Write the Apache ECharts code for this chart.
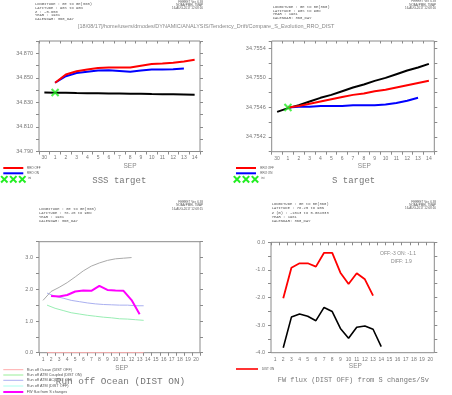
<!DOCTYPE html>
<html><head><meta charset="utf-8">
<script src="https://cdn.jsdelivr.net/npm/echarts@6/dist/echarts.min.js"></script>
<style>html,body{margin:0;padding:0;background:#fff}#c{width:452px;height:395px}</style>
</head><body><div id="c"></div>
<script>
// ---------- DATA ----------
// Panel 1: SSS target (x: days 30 Aug .. 14 Sep, 360-day calendar)
const P1_DAYS = ['30','1','2','3','4','5','6','7','8','9','10','11','12','13','14'];
const P1_RRO_OFF = [null,34.8460,34.8527,34.8553,34.8567,34.8580,34.8585,34.8585,34.8585,34.8599,34.8612,34.8617,34.8623,34.8633,34.8647];
const P1_RRO_ON  = [null,34.8460,34.8513,34.8540,34.8550,34.8559,34.8561,34.8556,34.8550,34.8559,34.8567,34.8567,34.8570,34.8577,null];
const P1_REF     = [34.8380,34.8379,34.8378,34.8376,34.8375,34.8374,34.8373,34.8372,34.8371,34.8370,34.8368,34.8367,34.8366,34.8364,34.8362];
const P1_INI     = [['1',34.8380]];

// Panel 2: S target
const P2_DAYS = P1_DAYS;
const P2_RRO_OFF = [null,34.75460,34.75462,34.75465,34.75468,34.75471,34.75474,34.75477,34.75479,34.75482,34.75484,34.75487,34.75490,34.75493,34.75496];
const P2_RRO_ON  = [null,34.75460,34.75461,34.75461,34.75462,34.75462,34.75462,34.75463,34.75463,34.75463,34.75464,34.75466,34.75469,34.75473,null];
const P2_REF     = [34.75454,34.75459,34.75463,34.75468,34.75473,34.75477,34.75482,34.75487,34.75491,34.75496,34.75500,34.75505,34.75510,34.75514,34.75519];
const P2_INI     = [['1',34.7546]];

// Panel 3: Run off Ocean (DIST ON)  (x: day of SEP)
const P3_DAYS = ['1','2','3','4','5','6','7','8','9','10','11','12','13','14','15','16','17','18','19','20'];
const P3_HALF_X = [1.5,2.5,3.5,4.5,5.5,6.5,7.5,8.5,9.5,10.5,11.5,12.5,13.5];
const P3_RUNOFF_OCEAN_OFF = [0,0,0,0,0,0,0,0,0,0,0,0,0];
const P3_RUNOFF_ATM_COUPLED_ON = [1.50,1.40,1.33,1.26,1.22,1.18,1.15,1.12,1.10,1.07,1.06,1.04,1.02];
const P3_RUNOFF_ATM_AC_ON = [1.88,1.78,1.72,1.65,1.61,1.57,1.54,1.52,1.51,1.50,1.50,1.48,1.48];
const P3_GREY_X = [1,2,3,4,5,6,7,8,9,10,11,12];
const P3_GREY = [1.65,1.93,2.06,2.21,2.39,2.58,2.73,2.83,2.91,2.96,2.98,3.00];
const P3_FW_X = [2,3,4,5,6,7,8,9,10,11,12,13];
const P3_FW = [1.79,1.77,1.82,1.93,1.96,1.95,2.11,1.98,1.96,1.95,1.66,1.21];

// Panel 4: FW flux (DIST OFF) from S changes/Sv
const P4_DAYS = P3_DAYS;
const P4_DIST_ON  = [null,-2.03,-0.92,-0.76,-0.76,-0.88,-0.38,-0.38,-1.10,-1.51,-1.12,-1.34,-1.93];
const P4_DIST_OFF = [null,-3.82,-2.71,-2.60,-2.68,-2.84,-2.36,-2.51,-3.12,-3.48,-3.08,-3.03,-3.15,-3.78];

// ---------- LAYOUT / STYLE ----------
const FRAME = '#8a8a8a', LAB = '#777', TXT = '#555';
const SANS = 'Liberation Sans', MONO = 'Liberation Mono';
const grids = [
  {left:39, top:41, width:161, height:110.5},
  {left:271.7, top:41, width:162.6, height:110.7},
  {left:39, top:241.7, width:161, height:111},
  {left:271, top:242.3, width:163.3, height:110.4}
].map(g => Object.assign(g, {show:true, borderColor:FRAME, borderWidth:1, backgroundColor:'transparent', containLabel:false, outerBoundsMode:'none'}));

function catX(gi, data, top) {
  return {gridIndex:gi, type:'category', data, boundaryGap:true, position: top?'top':'bottom',
    axisLine:{show:false},
    axisTick:{show:true, inside:!!top, length: top?2.5:3, lineStyle:{color:FRAME, width:1}},
    axisLabel:{show:!top, fontSize:5, fontFamily:SANS, color:LAB, margin:4},
    splitLine:{show:false}};
}
function valY(gi, min, max, interval, fmt, right) {
  return {gridIndex:gi, type:'value', min, max, interval, position: right?'right':'left',
    axisLine:{show:false},
    axisTick:{show:true, inside:false, length:3, lineStyle:{color:FRAME, width:1}},
    axisLabel:{show:!right, fontSize:5.5, fontFamily:SANS, color:LAB, margin:6, formatter:fmt},
    splitLine:{show:false}};
}
const f1 = v => (Math.round(v*1000) % 20 === 10) ? v.toFixed(3) : '';
const f2 = v => (Math.round(v*10000) % 4 === 2) ? v.toFixed(4) : '';
const fInt = v => (Math.abs(v - Math.round(v)) < 1e-9) ? v.toFixed(1) : '';

const xAxis = [
  catX(0, P1_DAYS), catX(0, P1_DAYS, true),
  catX(1, P2_DAYS), catX(1, P2_DAYS, true),
  catX(2, P3_DAYS), catX(2, P3_DAYS, true),
  {gridIndex:2, type:'value', min:0.5, max:20.5, show:false},
  catX(3, P4_DAYS), catX(3, P4_DAYS, true)
];
const yAxis = [
  valY(0, 34.79, 34.88, 0.01, f1), valY(0, 34.79, 34.88, 0.01, f1, true),
  valY(1, 34.7540, 34.7555, 0.0002, f2), valY(1, 34.7540, 34.7555, 0.0002, f2, true),
  valY(2, 0, 3.5, 0.5, fInt), valY(2, 0, 3.5, 0.5, fInt, true),
  valY(3, -4, 0, 0.5, fInt), valY(3, -4, 0, 0.5, fInt, true)
];

function line(name, xi, yi, data, color, w) {
  return {name, type:'line', xAxisIndex:xi, yAxisIndex:yi, data, showSymbol:false, symbol:'none',
    lineStyle:{color, width:w}, itemStyle:{color}, connectNulls:false, silent:true};
}
const XPATH = 'path://M0,0L10,10M10,0L0,10';
function ini(xi, yi, data) {
  return {name:'ini', type:'scatter', xAxisIndex:xi, yAxisIndex:yi, data, symbol:XPATH, symbolSize:7,
    itemStyle:{color:'rgba(0,0,0,0)', borderColor:'#22ee22', borderWidth:2}, z:5, silent:true};
}
const zip = (xs, ys) => xs.map((x,i)=>[x, ys[i]]);
const pad = (vals, n) => { const a = vals.slice(); while (a.length < n) a.push(null); return a; };

const series = [
  line('ref', 0, 0, P1_REF, '#000', 2),
  line('RRO ON', 0, 0, P1_RRO_ON, '#0000ff', 2),
  line('RRO OFF', 0, 0, P1_RRO_OFF, '#ff0000', 2),
  ini(0, 0, P1_INI),
  line('ref', 2, 2, P2_REF, '#000', 2),
  line('RRO ON', 2, 2, P2_RRO_ON, '#0000ff', 2),
  line('RRO OFF', 2, 2, P2_RRO_OFF, '#ff0000', 2),
  ini(2, 2, P2_INI),
  line('Run off Ocean (DIST OFF)', 6, 4, zip(P3_HALF_X, P3_RUNOFF_OCEAN_OFF), '#ffaaaa', 1),
  line('Run off ATM Coupled (DIST ON)', 6, 4, zip(P3_HALF_X, P3_RUNOFF_ATM_COUPLED_ON), '#99eeb4', 1),
  line('Run off ATM AC(DIST ON)', 6, 4, zip(P3_HALF_X, P3_RUNOFF_ATM_AC_ON), '#aab0f0', 1),
  line('grey', 6, 4, zip(P3_GREY_X, P3_GREY), '#aaaaaa', 1),
  line('FW flux from S changes', 6, 4, zip(P3_FW_X, P3_FW), '#ff00ff', 2),
  line('DIST ON', 7, 6, pad(P4_DIST_ON, 20), '#ff0000', 1.8),
  line('DIST OFF', 7, 6, pad(P4_DIST_OFF, 20), '#000', 1.6)
];

// ---------- TEXT / DECORATION ----------
const G = [];
function txt(t, x, y, size, opt) {
  opt = opt || {};
  G.push({type:'text', x, y, silent:true, style:{text:t, fontSize:size, fontFamily:opt.font||SANS,
    fill:opt.fill||TXT, textAlign:opt.align||'left', textVerticalAlign:'middle'}});
}
function lines(arr, x, y, dy, size, align, font) { arr.forEach((t,i)=>txt(t, x, y+i*dy, size, {align, font})); }
function seg(x1,y1,x2,y2,color,w){ G.push({type:'line', silent:true, shape:{x1,y1,x2,y2}, style:{stroke:color, lineWidth:w}}); }
function xMark(cx,cy,h){ seg(cx-h,cy-h,cx+h,cy+h,'#22ee22',2); seg(cx-h,cy+h,cx+h,cy-h,'#22ee22',2); }

// headers
lines(['LONGITUDE : 0E to 0E(360)','LATITUDE : 90S to 90N','Z : -0.658','YEAR : 1981','CALENDAR: 360_DAY'], 35, 4, 3.8, 3.8, 'left', MONO);
lines(['FERRET Ver. 6.93','NOAA/PMEL TMAP','16-AUG-2017 12:08:16'], 203, 1.8, 3.3, 3, 'right');
lines(['LONGITUDE : 0E to 0E(360)','LATITUDE : 90S to 90N','YEAR : 1981','CALENDAR: 360_DAY'], 272.7, 7, 3.6, 3.8, 'left', MONO);
lines(['FERRET Ver. 6.93','NOAA/PMEL TMAP','16-AUG-2017 12:08:16'], 436, 1.5, 3.2, 3, 'right');
txt('[18/08/17]/home/users/dmodes/DYNAMIC/ANALYSIS/Tendency_Drift/Compare_S_Evolution_RRO_DIST', 78, 26.7, 5.5, {fill:'#888'});
lines(['LONGITUDE : 0E to 0E(360)','LATITUDE : 78.25 to 90N','YEAR : 1981','CALENDAR: 360_DAY'], 39, 209, 4, 3.8, 'left', MONO);
lines(['FERRET Ver. 6.93','NOAA/PMEL TMAP','16-AUG-2017 12:08:15'], 203, 202, 3.4, 3, 'right');
lines(['LONGITUDE : 0E to 0E(360)','LATITUDE : 78.25 to 90N','Z (m) : -1013 to 5.084333','YEAR : 1981','CALENDAR: 360_DAY'], 271.7, 204.3, 4.1, 3.8, 'left', MONO);
lines(['FERRET Ver. 6.93','NOAA/PMEL TMAP','16-AUG-2017 12:08:16'], 436, 202, 3.2, 3, 'right');

// axis titles
txt('SEP', 130, 166, 6.5, {fill:'#888', align:'center'});
txt('SEP', 364.3, 166, 6.5, {fill:'#888', align:'center'});
txt('SEP', 121.7, 368.3, 6.5, {fill:'#888', align:'center'});
txt('SEP', 355.3, 366.7, 6.5, {fill:'#888', align:'center'});

// legends panel 1 & 2
[[3.3, 27], [236, 260.3]].forEach(([lx, tx]) => {
  seg(lx, 168, lx+20, 168, '#ff0000', 2); txt('RRO OFF', tx, 168, 3);
  seg(lx, 173.3, lx+20, 173.3, '#0000ff', 2); txt('RRO ON', tx, 173.3, 3);
  xMark(lx+1, 179.3, 3.2); xMark(lx+10, 179.3, 3.2); xMark(lx+19, 179.3, 3.2);
  txt('ini', tx+1, 178.3, 3);
});
// legend panel 3
[['Run off Ocean (DIST OFF)','#ffaaaa',369.7,1],['Run off ATM Coupled (DIST ON)','#99ee99',375,1],
 ['Run off ATM AC(DIST ON)','#aab0f0',380.3,1],['Run off ATM (DIST OFF)','#aaffee',386,1],
 ['FW flux from S changes','#ff00ff',392,2]].forEach(([t,c,y,w]) => { seg(3.3,y,23.3,y,c,w); txt(t, 26.7, y, 3.8); });
// legend panel 4
seg(236, 369, 258, 369, '#ff0000', 1.6); txt('DIST ON', 262, 369, 3);

// titles
txt('SSS target', 92.3, 181, 9, {font:MONO, fill:'#777'});
txt('S target', 332, 181, 9, {font:MONO, fill:'#777'});
txt('Run off Ocean (DIST ON)', 55.8, 382, 9.4, {font:MONO, fill:'#777'});
txt('FW flux (DIST OFF) from S changes/Sv', 277.7, 380, 7, {font:MONO, fill:'#777'});
// annotation panel 4
txt('OFF:-3 ON: -1.1', 380, 254, 5, {fill:'#888'});
txt('DIFF: 1.9', 391, 262, 5, {fill:'#888'});

const chart = echarts.init(document.getElementById('c'), null, {renderer:'canvas'});
chart.setOption({animation:false, backgroundColor:'#fff', grid:grids, xAxis, yAxis, series, graphic:G});
</script></body></html>
